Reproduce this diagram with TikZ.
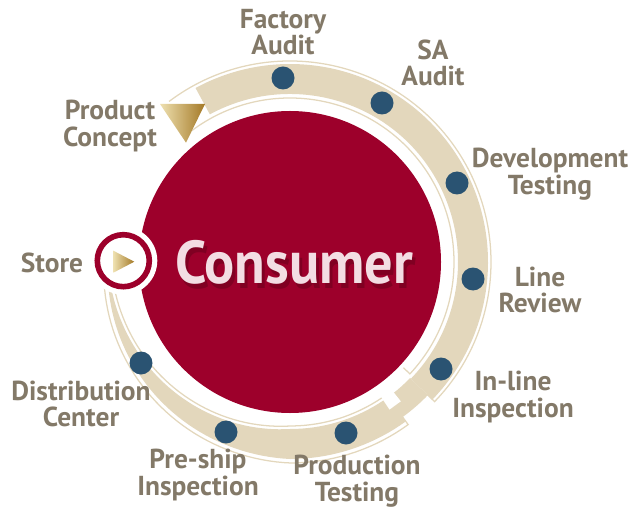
\documentclass[tikz,border=0pt]{standalone}
\usepackage{fontspec}
\setmainfont{PT Sans}
\usepackage{tikz}
\usetikzlibrary{shapes.geometric, arrows}
\definecolor{crimson}{RGB}{157,0,43}
\definecolor{crimsondark}{RGB}{105,0,28}
\definecolor{sand}{RGB}{227,215,188}
\definecolor{navy}{RGB}{42,83,114}
\definecolor{taupe}{RGB}{131,121,104}
\definecolor{blush}{RGB}{243,221,227}
\definecolor{goldlight}{RGB}{238,224,176}
\definecolor{golddark}{RGB}{164,121,38}
\tikzstyle{stagetext} = [text=taupe, font=\bfseries\fontsize{19.5}{19}\selectfont, align=center, inner sep=0pt]
\tikzstyle{thinline} = [draw=sand, line width=0.9pt]
\tikzstyle{goldfill} = [left color=goldlight, right color=golddark]
\tikzstyle{bigword} = [font=\bfseries\fontsize{43}{43}\selectfont, xscale=0.93]

\begin{document}
\begin{tikzpicture}[scale=0.025]
\useasboundingbox (-290,-246) rectangle (342,262);

\fill[crimson] (0,0) circle (151);

%band, top part
\fill[sand] (118.5:168) arc[start angle=118.5, end angle=-44, radius=168]
  -- (-44:198) arc[start angle=-44, end angle=118.5, radius=198] -- cycle;
%band, bottom part getting thinner towards the store
\fill[sand] plot[domain=-44:-182, samples=70, variable=\t] ({\t}:{182+15*min(1,max(0,(\t+180)/90))})
  -- plot[domain=-182:-44, samples=70, variable=\t] ({\t}:{182-15*min(1,max(0,(\t+180)/90))}) -- cycle;

%notches where the two parts meet
\fill[white] (-44:191) arc[start angle=-44, end angle=-54, radius=191]
  -- (-54:204) arc[start angle=-54, end angle=-44, radius=204] -- cycle;
\fill[white] (-56:156) -- (-56:178) -- (-51.5:178) -- (-51.5:156) -- cycle;

\draw[thinline] (127:201) arc[start angle=127, end angle=-44, radius=201]
  -- (-44:191) arc[start angle=-44, end angle=-54, radius=191] -- (-54:201)
  -- plot[domain=-54:-178, samples=60, variable=\t] ({\t}:{186+15*min(1,max(0,(\t+180)/90))});
\draw[thinline] (127:164) arc[start angle=127, end angle=-43, radius=164] -- (-43:155);
\draw[thinline] plot[domain=-56:-178, samples=60, variable=\t] ({\t}:{179-15*min(1,max(0,(\t+180)/90))});

\foreach \x/\y in {-7/184, 92/159, 167/79, 183/-17, 151/-107, 56/-171, -64/-170, -149/-101}
{
\fill[navy] (\x,\y) circle (11.5);
}

%store
\fill[white] (-166.7,1.3) circle (34);
\draw[crimson, line width=4pt] (-166.7,1.3) circle (26);
\shade[goldfill] (-176.7,11.3) -- (-176.7,-10.7) -- (-155.7,0.3) -- cycle;

%product concept
\shade[goldfill] (-130,158) -- (-85,158) -- (-104,119.3) -- cycle;

\node (consumershadow) [bigword, text=crimsondark, opacity=0.55] at (7,-5) {Consumer};
\node (consumer) [bigword, text=blush] at (4,0) {Consumer};

\foreach \nm/\x/\y/\txt in {factory/-7/230/{Factory\\Audit}, sa/143/199/{SA\\Audit},
  development/260/88/{Development\\Testing}, linereview/250/-28/{Line\\Review},
  inline/223/-135/{In-line\\Inspection}, production/67/-219/{Production\\Testing},
  preship/-92/-213/{Pre-ship\\Inspection}, distribution/-209/-142/{Distribution\\Center},
  store/-238/-1/{Store}, concept/-180/136/{Product\\Concept}}
{
\node[stagetext] (\nm) at (\x,\y) {\txt};
}

\end{tikzpicture}
\end{document}
